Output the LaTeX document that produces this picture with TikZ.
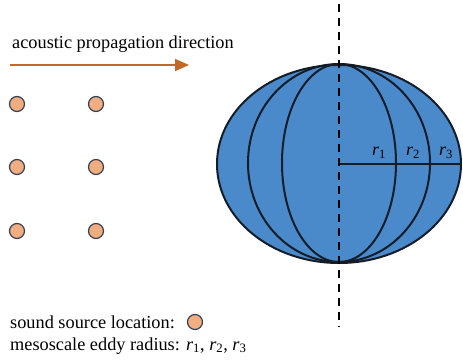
\documentclass[tikz,border=0pt]{standalone}
\usepackage{fontspec}
\setmainfont{Liberation Serif}
\usetikzlibrary{arrows.meta,shapes.geometric}
\definecolor{edblue}{RGB}{74,138,203}
\definecolor{edline}{RGB}{20,28,40}
\definecolor{srcfill}{RGB}{242,174,128}
\definecolor{srcline}{RGB}{52,66,88}
\definecolor{proparrow}{RGB}{196,104,40}
\tikzset{
  source/.style={circle,draw=srcline,fill=srcfill,line width=1.2pt,minimum size=15pt,inner sep=0pt},
  eddy/.style={ellipse,draw=edline,fill=edblue,line width=2pt,minimum width=244pt,minimum height=198pt,inner sep=0pt},
  meridian/.style={draw=edline,line width=2pt},
  axis/.style={draw=black,line width=2pt,dash pattern=on 8pt off 6pt},
  prop/.style={-{Triangle[length=14pt,width=12pt]},line width=1.6pt,draw=proparrow},
  lbl/.style={font=\fontsize{18.3}{21}\selectfont,inner sep=0pt,anchor=base west},
  rlbl/.style={font=\fontsize{18}{20}\selectfont,inner sep=0pt},
}
\begin{document}
\begin{tikzpicture}[x=1pt,y=1pt]
  \useasboundingbox (0,0) rectangle (463,360);
  % eddy and its meridians
  \node[eddy] (eddy) at (339,196) {};
  \foreach \rx in {57,91} {
    \draw[meridian] (eddy.north) arc[start angle=90,end angle=-90,x radius=\rx,y radius=99];
    \draw[meridian] (eddy.north) arc[start angle=90,end angle=270,x radius=\rx,y radius=99];
  }
  \draw[meridian] (eddy.center) -- (eddy.east);
  \coordinate (axtop) at (339,356);
  \coordinate (axbot) at (339,33);
  \draw[axis] (axtop) -- (axbot);
  \node[rlbl] (r1) at (379,207) {\textit{r}\textsubscript{1}};
  \node[rlbl] (r2) at (413,207) {\textit{r}\textsubscript{2}};
  \node[rlbl] (r3) at (446,207) {\textit{r}\textsubscript{3}};
  % propagation direction
  \node[lbl] (dirtext) at (12,312) {acoustic propagation direction};
  \coordinate (arrstart) at (10,295);
  \coordinate (arrend) at (189,295);
  \draw[prop] (arrstart) -- (arrend);
  % sound sources
  \foreach \i/\y in {1/256,2/193,3/129} {
    \node[source] (srca\i) at (17,\y) {};
    \node[source] (srcb\i) at (96,\y) {};
  }
  % legend
  \node[lbl] (legsrc) at (10,32) {sound source location:};
  \node[source] (legdot) at (195,38) {};
  \node[lbl] (legeddy) at (10,10) {mesoscale eddy radius: \textit{r}\textsubscript{1}, \textit{r}\textsubscript{2}, \textit{r}\textsubscript{3}};
\end{tikzpicture}
\end{document}
